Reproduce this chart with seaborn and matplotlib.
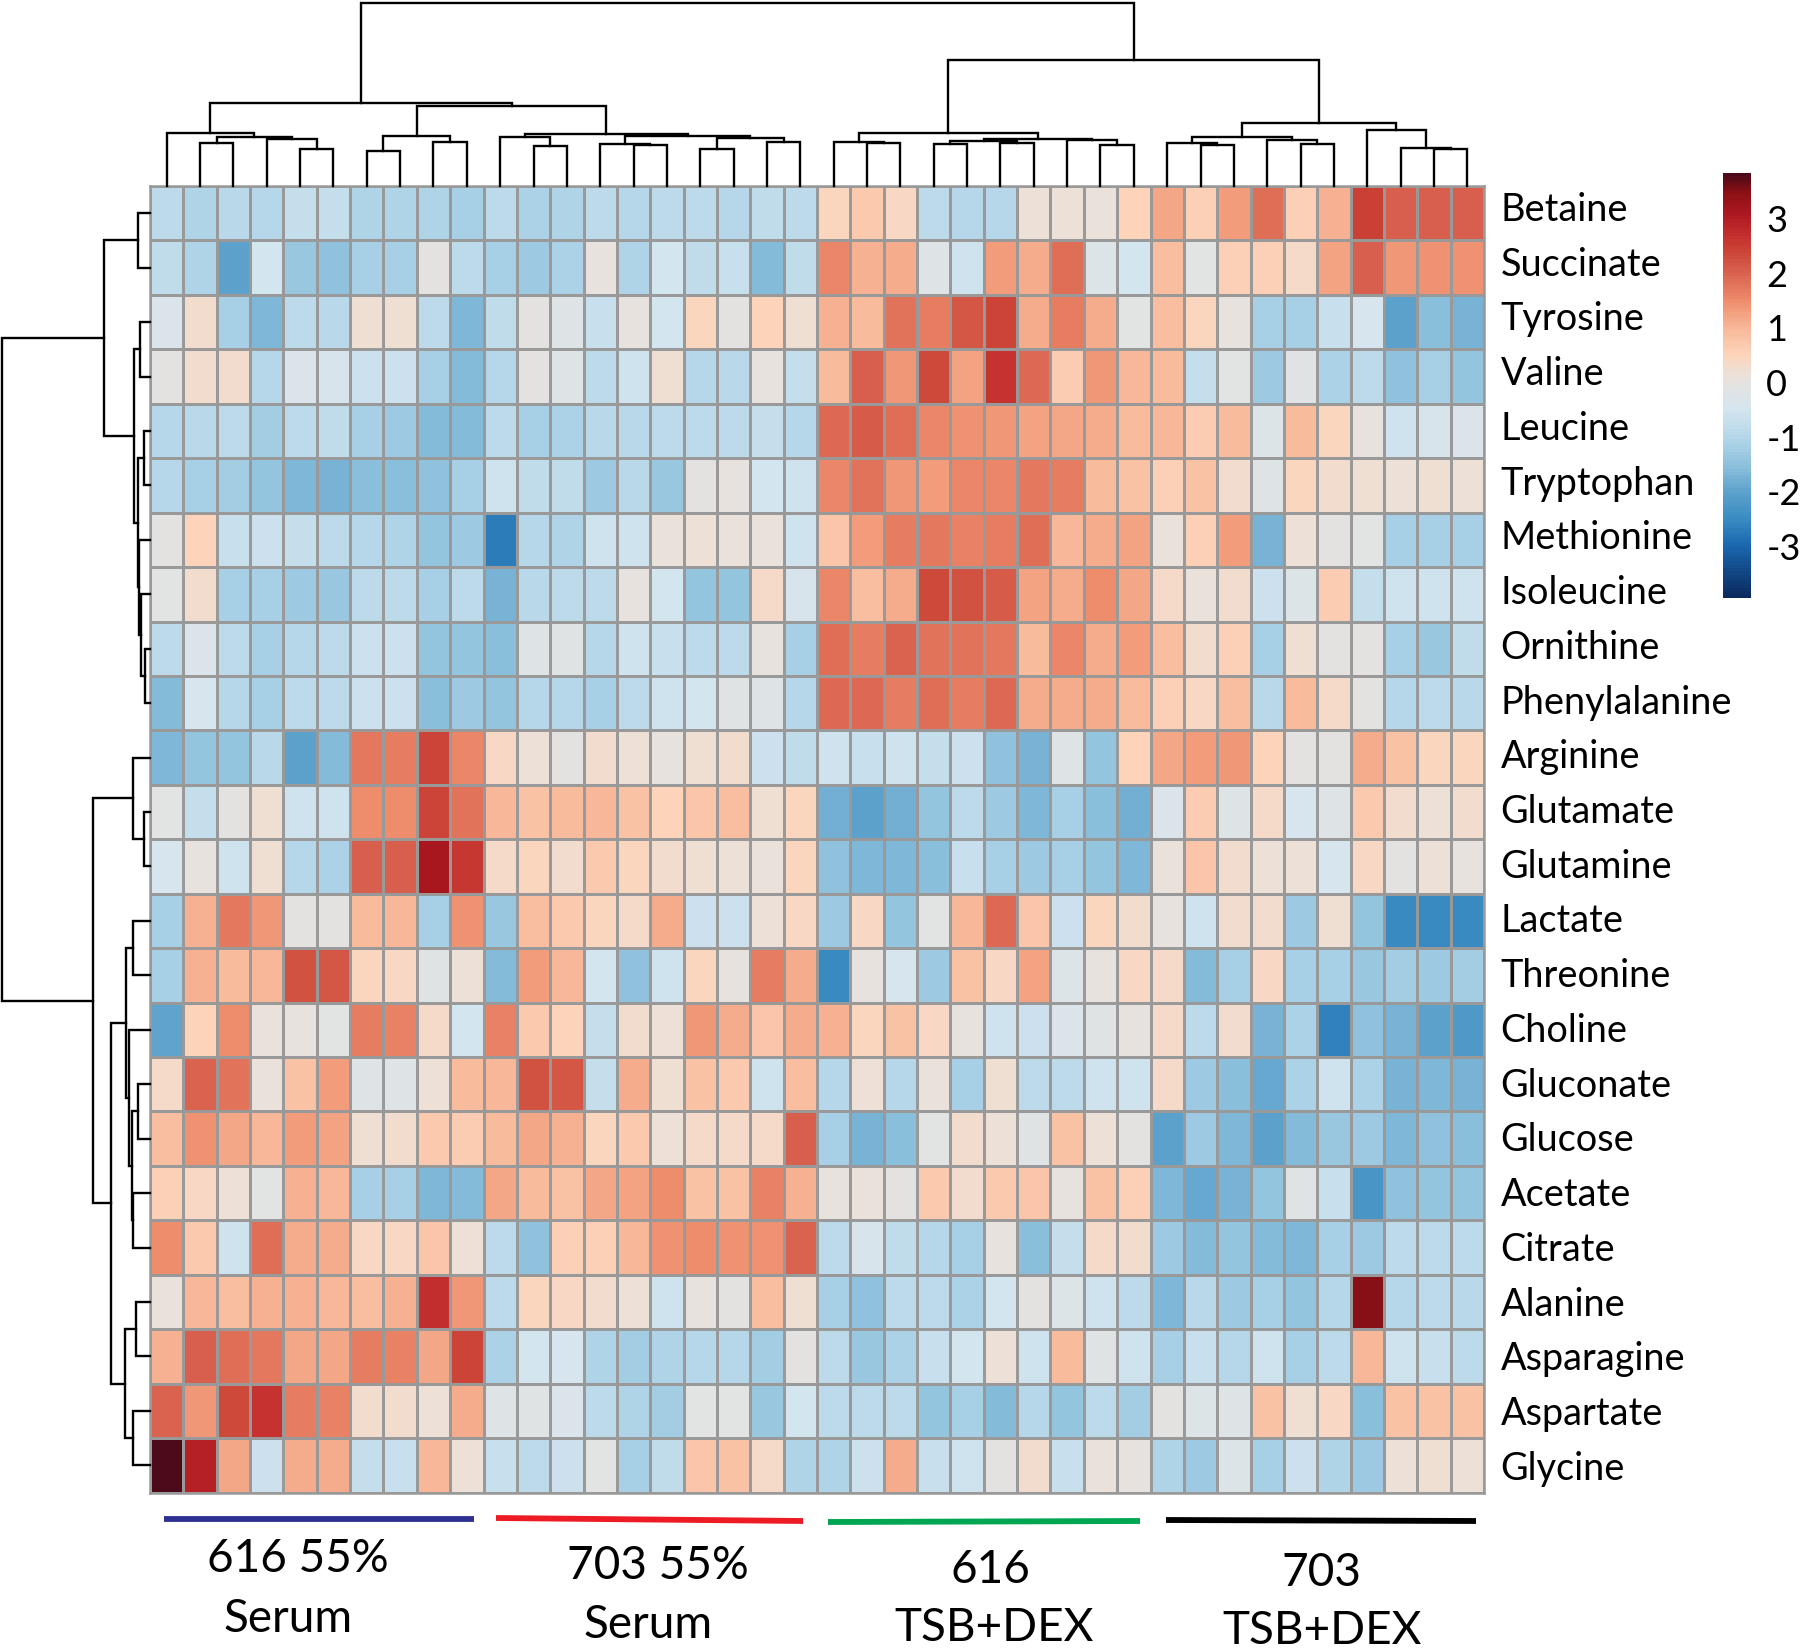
import matplotlib
matplotlib.use("Agg")
import matplotlib.pyplot as plt
from matplotlib.colors import LinearSegmentedColormap
import numpy as np
import pandas as pd
import seaborn as sns

row_names = ["Betaine","Succinate","Tyrosine","Valine","Leucine","Tryptophan","Methionine","Isoleucine",
             "Ornithine","Phenylalanine","Arginine","Glutamate","Glutamine","Lactate","Threonine","Choline",
             "Gluconate","Glucose","Acetate","Citrate","Alanine","Asparagine","Aspartate","Glycine"]

betaine = [-.85,-1.05,-.95,-1,-.75,-.75,-1.05,-1.05,-1.05,-1.2,-.9,-1.1,-1.05,-.9,-1,-.9,-.9,-1,-.8,-.85,
           .45,.7,.4,-.85,-1,-1,.15,.15,.1,.55,1.2,.6,1.3,1.85,.6,1.05,2.45,2.05,2.05,2.05]
succinate = [-.8,-1.05,-2,-.5,-1.35,-1.5,-1.2,-1.2,-.02,-.85,-1.2,-1.3,-1.1,.03,-1.05,-.5,-.8,-.7,-1.6,-.8,
             1.55,1.05,1.1,-.2,-.55,1.3,1.15,1.85,-.25,-.5,.9,-.1,.6,.6,.35,1.25,2.05,1.4,1.45,1.45]
tyrosine = [-.3,.25,-1.2,-1.65,-.9,-.95,.2,.2,-.9,-1.65,-.8,-.05,-.2,-.7,.02,-.5,.45,-.05,.5,.2,
            1.05,.95,1.8,1.65,2.15,2.4,1.15,1.65,1.1,-.1,.9,.45,.02,-1.2,-1.2,-.7,-.45,-2,-1.55,-1.7]
valine = [0,.3,.25,-1,-.3,-.4,-.65,-.65,-1.2,-1.6,-1,-.02,-.2,-.85,-.6,.2,-1,-.95,.03,-.75,
          .95,2.05,1.4,2.35,1.25,2.65,1.9,.65,1.4,1,.95,-.75,-.1,-1.3,-.15,-1.1,-.9,-1.5,-1.2,-1.45]
leucine = [-1,-.95,-.9,-1.25,-.85,-.8,-1.2,-1.3,-1.6,-1.6,-.9,-1.15,-1.1,-.95,-.95,-.85,-.9,-.9,-.75,-1,
           1.9,2.1,1.85,1.55,1.45,1.4,1.25,1.2,1.1,.95,1,.65,.95,-.25,.95,.45,.02,-.55,-.4,-.35]
tryptophan = [-1,-1.15,-1.25,-1.4,-1.65,-1.7,-1.55,-1.55,-1.5,-1.2,-.55,-.8,-.8,-1.3,-.95,-1.35,0,.05,-.5,-.55,
              1.55,1.8,1.4,1.3,1.55,1.55,1.75,1.65,.95,.85,.6,.85,.3,-.2,.45,.3,.2,.18,.2,.17]
methionine = [-.05,.5,-.7,-.65,-.75,-.85,-1,-1.05,-1.4,-1.3,-2.7,-1,-1.05,-.55,-.6,.1,.17,.08,.08,-.6,
              .75,1.3,1.65,1.75,1.6,1.7,1.85,1,1.15,1.25,.12,.6,1.3,-1.7,.15,-.05,-.08,-1.2,-1.2,-1.2]
isoleucine = [-.1,.3,-1.15,-1.2,-1.3,-1.35,-.85,-.85,-1.15,-.9,-1.7,-.95,-.9,-.85,.02,-.5,-1.45,-1.45,.35,-.4,
              1.55,.9,1.1,2.35,2.2,2.1,1.25,1.15,1.5,1.2,.35,.12,.3,-.65,-.25,.65,-.75,-.6,-.6,-.6]
ornithine = [-.9,-.3,-.9,-1.2,-1,-.85,-.65,-.65,-1.4,-1.45,-1.55,-.2,-.15,-1,-.6,-.7,-.9,-.9,.03,-1.15,
             1.85,1.7,1.95,1.8,1.8,1.75,.95,1.55,1.1,1.3,.9,.3,.6,-1.15,.2,-.02,-.05,-1.15,-1.35,-.8]
phenylalanine = [-1.6,-.45,-1,-1.15,-.85,-.85,-.65,-.65,-1.55,-1.3,-1.45,-1,-1,-1.2,-.85,-.55,-.5,-.15,-.2,-1,
                 1.9,1.9,1.65,1.85,1.7,1.9,1.1,1.1,1.1,.95,.6,.4,.9,-.95,.95,.35,-.05,-1,-.9,-.95]
arginine = [-1.65,-1.45,-1.4,-.95,-2,-1.6,1.75,1.7,2.4,1.55,.4,.15,0,.3,.15,.05,.2,.25,-.65,-.8,
            -.55,-.7,-.55,-.75,-.65,-1.5,-1.75,-.2,-1.45,.5,1.2,1.3,1.4,.5,-.02,0,1.1,.8,.45,.45]
glutamate = [-.1,-.75,-.03,.2,-.6,-.6,1.5,1.5,2.4,1.8,1,.8,.95,1,.85,.5,.75,.9,.2,.45,
             -1.8,-2,-1.8,-1.45,-.85,-1.3,-1.65,-1.15,-1.55,-1.8,-.3,.65,-.2,.35,-.45,-.2,.7,.3,.17,.3]
glutamine = [-.45,.02,-.6,.23,-1,-1.1,2.05,2.05,3.15,2.6,.35,.45,.3,.7,.45,.25,.2,.15,.1,.45,
             -1.5,-1.65,-1.65,-1.55,-.7,-1.2,-1.3,-1.15,-1.4,-1.65,.07,.75,.25,.18,.13,-.45,.4,-.05,.15,.05]
lactate = [-1.2,1.05,1.75,1.35,-.02,-.05,.95,1,-1.2,1.45,-1.35,.9,.7,.45,.35,1.1,-.65,-.65,.15,.4,
           -1.3,.4,-1.4,-.07,1,1.9,.75,-.65,.45,.3,.02,-.55,.25,.3,-1.3,.22,-1.45,-2.5,-2.5,-2.5]
threonine = [-1.2,1.05,.95,1,2.2,2.15,.45,.4,-.15,.15,-1.6,1.3,1,-.5,-1.5,-.6,.45,.03,1.65,1.15,
             -2.5,.02,-.45,-1.3,.85,.4,1.25,-.25,.02,.42,.33,-1.6,-1.2,.42,-1.15,-1.15,-1.35,-1.25,-1.3,-1.25]
choline = [-1.95,.5,1.5,.12,.02,-.1,1.65,1.6,.35,-.5,1.6,.7,.55,-.75,.28,.17,1.35,1.15,.75,1.1,
           1.05,.45,.8,.37,.05,-.6,-.65,-.3,-.12,.02,.33,-.85,.25,-1.75,-1.1,-2.65,-1.5,-1.7,-2,-2.2]
gluconate = [.35,1.95,1.8,.1,.8,1.3,-.2,-.2,.13,.95,1,2.25,2.15,-.75,1.15,.2,.8,.7,-.55,.9,
             -1,.18,-1,.1,-1.15,.2,-.85,-.9,-.55,-.6,.33,-1.3,-1.55,-1.9,-1.1,-.6,-1.1,-1.75,-1.65,-1.7]
glucose = [.9,1.45,1.2,1,1.3,1.25,.22,.3,.7,.65,.95,1.2,1.05,.45,.7,.17,.32,.32,.35,2.05,
           -1.15,-1.75,-1.55,-.1,.25,.18,-.15,.85,.17,-.05,-2,-1.3,-1.65,-2,-1.6,-1.35,-1.3,-1.65,-1.5,-1.55]
acetate = [.6,.4,.13,-.07,1.05,1,-1.15,-1.2,-1.65,-1.6,1.2,.95,.85,1.2,1.25,1.5,.8,.8,1.6,1.05,
           .02,.08,0,.7,.3,.7,.75,.05,.85,.6,-1.65,-1.9,-1.7,-1.45,-.15,-.7,-2.25,-1.5,-1.45,-1.45]
citrate = [1.5,.7,-.6,1.85,1.1,1.15,.42,.4,.75,.15,-.9,-1.5,.6,.6,1,1.45,1.5,1.45,1.45,2,
           -.85,-.4,-.8,-1,-1.15,.02,-1.55,-.75,.33,.25,-1.3,-1.6,-1.45,-1.6,-1.65,-1.2,-1.3,-.9,-.85,-.85]
alanine = [.08,1,.9,1.05,1.05,1,.9,1.05,2.7,1.4,-.85,.45,.4,.25,.15,-.55,.05,0,.9,.23,
           -1.15,-1.5,-.9,-.9,-1.1,-.5,-.05,-.25,-.55,-.9,-1.65,-.95,-1.3,-1.2,-1.45,-1,3.5,-1,-.9,-.95]
asparagine = [1.05,2.05,1.85,1.75,1.2,1.2,1.65,1.6,1.2,2.4,-1.1,-.5,-.45,-1.05,-1.25,-1.05,-1,-1,-1.25,-.02,
              -.9,-1.35,-1.1,-.7,-.5,.17,-.55,.95,-.12,-.55,-1.2,-.7,-1,-.6,-1.2,-.9,1,-.6,-.7,-.85]
aspartate = [2,1.4,2.35,2.65,1.7,1.6,.25,.3,.13,1.1,-.2,-.15,-.3,-.85,-1.05,-1.25,-.1,-.1,-1.35,-.5,
             -.85,-.9,-.9,-1.4,-1.2,-1.6,-1,-1.45,-.9,-1.25,-.05,-.25,-.2,.85,.23,.38,-1.55,.8,.85,.85]
glycine = [3.82,2.95,1.2,-.65,1.15,1.15,-.75,-.7,1,.17,-.7,-.85,-.65,-.1,-1.15,-.8,.75,.8,.35,-1.05,
           -1.05,-.65,1.15,-.7,-.6,-.05,.25,-.7,.1,.02,-1.05,-1.3,-.25,-1.15,-.65,-1.05,-1.3,.18,.2,.18]

# dendrogram trees: [height, left, right]; a leaf is its row/column position
col_a = [52.7, 0, [49, [43.3, 1, 2], [47.3, 3, [37, 4, 5]]]]
col_c = [49.7, [35, 6, 7], [44.3, 8, 9]]
col_d = [51.7, [49, 10, [39.7, 11, 12]], [50, [41.7, 13, [40.7, 14, 15]], [47.7, [37, 16, 17], [43.7, 18, 19]]]]
col_e = [53, [44, 20, [42.7, 21, 22]], [47.3, [45, [42.3, 23, 24], [43.3, 25, 26]], [45.7, 27, [41, 28, 29]]]]
col_f = [63.3, [49.3, [43.3, 30, [41, 31, 32]], [45.7, 33, [41.7, 34, 35]]], [55.7, 36, [37.7, 37, [36.7, 38, 39]]]]
col_tree = [183.3, [83.3, col_a, [80, col_c, col_d]], [125.7, col_e, col_f]]

row_top = [46, [12.3, 0, 1], [15.7, [10, 2, 3], [12.3, [6, 4, 5], [11, 6, [9.3, 7, [4.7, 8, 9]]]]]]
row_bottom = [56.7, [16.7, 10, [6, 11, 12]],
              [39, [24.3, [16.7, 13, 14], [21, 15, [17.7, [12.3, 16, 17], [17.3, 18, 19]]]],
               [25, [14, 20, 21], [17.3, 22, 23]]]]
row_tree = [147.7, row_top, row_bottom]

group_labels = [("616 55%", "Serum"), ("703 55%", "Serum"), ("616", "TSB+DEX"), ("703", "TSB+DEX")]
group_colors = ["#2e3192", "#ed1c24", "#00a651", "#000000"]

values = np.array([betaine, succinate, tyrosine, valine, leucine, tryptophan, methionine, isoleucine,
                   ornithine, phenylalanine, arginine, glutamate, glutamine, lactate, threonine, choline,
                   gluconate, glucose, acetate, citrate, alanine, asparagine, aspartate, glycine])
df = pd.DataFrame(values, index=row_names, columns=range(values.shape[1]))

VMIN, VMAX = -3.94, 3.83
nodes = [(VMIN, "#0a2a5e"), (-3, "#1a68b0"), (-2.5, "#3a8cc2"), (-2, "#5ea3cc"), (-1.5, "#8fc2dd"), (-1, "#b5d7e9"),
         (-.5, "#d4e5ef"), (0, "#e5e2e0"), (.15, "#ece0d8"), (.5, "#fdd5bc"), (1, "#f8b899"), (1.5, "#ee8d6c"),
         (2, "#da6350"), (2.4, "#cc4638"), (2.7, "#c4302e"), (3.1, "#ad1820"), (3.5, "#8b1015"), (VMAX, "#4c0a1a")]
cmap = LinearSegmentedColormap.from_list("rb", [((v - VMIN) / (VMAX - VMIN), c) for v, c in nodes], N=128)

W, H = 1800, 1650
plt.rcParams["font.family"] = ["Lato", "DejaVu Sans"]
fig = plt.figure(figsize=(W / 100, H / 100), dpi=100)


def box(x0, y0, x1, y1):
    return [x0 / W, 1 - y1 / H, (x1 - x0) / W, (y1 - y0) / H]


HL, HT, HR, HB = 150, 186, 1484, 1492.5
ax = fig.add_axes(box(HL, HT, HR, HB))
cax = fig.add_axes(box(1723, 173, 1751, 598))
sns.heatmap(df, ax=ax, cbar_ax=cax, cmap=cmap, vmin=VMIN, vmax=VMAX, linewidths=1.8, linecolor="#999999",
            xticklabels=False, yticklabels=False, cbar_kws={"ticks": [-3, -2, -1, 0, 1, 2, 3]})
for s in ax.spines.values():
    s.set_visible(True)
    s.set_color("#999999")
    s.set_linewidth(1.8)
cax.tick_params(length=0, pad=11)
cax.set_yticklabels(["-3", "-2", "-1", "0", "1", "2", "3"], fontsize=26)
for s in cax.spines.values():
    s.set_visible(False)

# row labels sit on a slightly longer scale than the cells, as in the reference
lab = fig.add_axes(box(HL, 179, HR, 1492.7), facecolor="none")
lab.set_ylim(len(row_names), 0)
lab.set_xlim(0, 1)
lab.set_yticks(np.arange(len(row_names)) + 0.5)
lab.set_yticklabels(row_names)
lab.set_xticks([])
lab.yaxis.tick_right()
lab.tick_params(axis="y", length=0, pad=12, labelsize=27.3)
for s in lab.spines.values():
    s.set_visible(False)


def draw(tree, ax_, horizontal):
    """Draw a tree; returns (centre position, height)."""
    if not isinstance(tree, list):
        return tree + 0.5, 0
    h, l, r = tree
    pl, hl = draw(l, ax_, horizontal)
    pr, hr = draw(r, ax_, horizontal)
    xs, ys = [pl, pl, pr, pr], [hl, h, h, hr]
    if horizontal:
        ax_.plot(xs, ys, color="black", lw=1.7, solid_joinstyle="miter", clip_on=False)
    else:
        ax_.plot(ys, xs, color="black", lw=1.7, solid_joinstyle="miter", clip_on=False)
    return (pl + pr) / 2, h


top = fig.add_axes(box(HL, 0, HR, HT))
top.set_xlim(0, 40)
top.set_ylim(0, HT)
top.axis("off")
draw(col_tree, top, True)

left = fig.add_axes(box(0, HT, HL, HB))
left.set_xlim(HL, 0)
left.set_ylim(24, 0)
left.axis("off")
draw(row_tree, left, False)

over = fig.add_axes([0, 0, 1, 1])
over.set_xlim(0, W)
over.set_ylim(H, 0)
over.axis("off")
bar_x0 = [164, 496, 828, 1166]
bar_x1 = [474, 803, 1140, 1476]
bar_y0 = [1519, 1518, 1522, 1520]
bar_y1 = [1519, 1521, 1521, 1521]
for a, b, c, d, col in zip(bar_x0, bar_x1, bar_y0, bar_y1, group_colors):
    over.plot([a, b], [c, d], color=col, lw=4.2, solid_capstyle="butt")
line1_x = [298, 658, 990, 1322]
line1_y = [1559, 1566, 1570, 1573]
line2_x = [288, 648, 994, 1322]
line2_y = [1619, 1625, 1628, 1631]
for (t1, t2), x1, y1, x2, y2 in zip(group_labels, line1_x, line1_y, line2_x, line2_y):
    over.text(x1, y1, t1, ha="center", va="center", fontsize=33)
    over.text(x2, y2, t2, ha="center", va="center", fontsize=33)

fig.savefig("out.png", dpi=100)
